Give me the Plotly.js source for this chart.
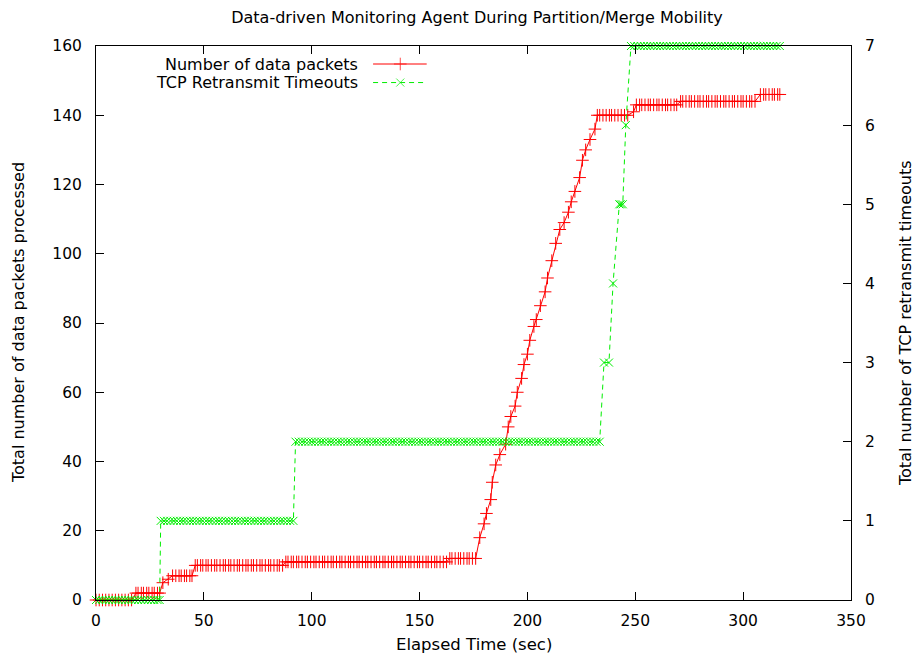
<!DOCTYPE html>
<html><head><meta charset="utf-8">
<script src="https://cdn.plot.ly/plotly-3.0.1.min.js"></script>
<style>html,body{margin:0;padding:0;background:#fff}#chart{width:918px;height:660px}</style>
</head><body><div id="chart"></div>
<script>
// Number of data packets: each count level with the times (sec) it was sampled at
const pktCounts = [0, 2, 5, 6, 7, 10, 11, 12,
  18, 22, 25, 29, 34, 39, 42, 45, 50, 53, 56, 60, 64, 68, 71, 75, 79, 81, 85, 89, 93, 98, 103, 107, 109, 112, 115, 118, 122, 127, 130, 133, 136,
  140, 141, 143, 144, 146];
const pktTimes = [
  [0,1.5,3,4.5,6,7.5,9,10.5,12,13.5,15,16.5],
  [18.5,19.5,21,22,23.5,24.5,26,27,28.5,29.5],
  [31],
  [33.5],
  [35.5,37,38.5,39.5,41,42,43.5,44.5],
  [46,47,48.5,49.5,51,52,53.5,55,56,57.5,59,60,61.5,62.5,64,65.5,66.5,68,69.5,70.5,72,73,74.5,76,77,78.5,80,81,82.5,84,85,86.5],
  [88,89,90.5,91.5,93,94,95.5,97,98,99.5,101,102,103.5,105,106,107.5,109,110,111.5,113,114,115.5,117,118,119.5,121,122,123.5,125,126,127.5,129,130,131.5,133,134,135.5,137,138,139.5,141,142,143.5,145,146,147.5,149,150,151.5,153,154,155.5,157,158,159.5,161,162.5],
  [164,165,166.5,168,169,170.5,172,173,174.5,176],
  [177.9],[179.9],[181],[183],[183.7],[185.3],[187.2],[189.9],[191.1],[192.3],[194.3],[195.3],[197.3],[198.4],[200],[201.1],[203],[204.1],[206],[208.2],[209.3],[211.3],[213.1],[215],[217],[219],[220.3],[222],[224.2],[225.5],[227],[229],[231.3],
  [232.4,233.5,235,236.5,238,239,240.5,242,243.5,245,246.5],
  [249.2],
  [250.5,252,253,254.5,256,257,258.5,260,261,262.5,264,265,266.5,268,269.2],
  [271,272,273.5,275,276,277.5,279,280,281.5,283,284,285.5,287,288,289.5,291,292,293.5,295,296,297.5,299,300,301.5,303,304,305.5],
  [308,309.5,310.5,312,313.5,314.5,316,317]
];
// TCP retransmit timeouts: each count level with its sample times (sec)
const tcpCounts = [0, 1, 2, 3, 4, 5, 6, 7];
const tcpTimes = [
  [0,1.5,3,4.5,6,7.5,9,10.5,12,13.5,15,16.5,18,19.5,21,22.5,24,25.5,27,28.5,29.5],
  [30,31.5,33,34.5,36,37.5,39,40.5,42,43.5,45,46.5,48,49.5,51,52.5,54,55.5,57,58.5,60,61.5,63,64.5,66,67.5,69,70.5,72,73.5,75,76.5,78,79.5,81,82.5,84,85.5,87,88.5,90,91.5],
  [92.5,94,95.5,97,98.5,100,101.5,103,104.5,106,107.5,109,110.5,112,113.5,115,116.5,118,119.5,121,122.5,124,125.5,127,128.5,130,131.5,133,134.5,136,137.5,139,140.5,142,143.5,145,146.5,148,149.5,151,152.5,154,155.5,157,158.5,160,161.5,163,164.5,166,167.5,169,170.5,172,173.5,175,176.5,178,179.5,181,182.5,184,185.5,187,188.5,190,191.5,193,194.5,196,197.5,199,200.5,202,203.5,205,206.5,208,209.5,211,212.5,214,215.5,217,218.5,220,221.5,223,224.5,226,227.5,229,230.5,232,233.5],
  [235.5,237.8],
  [239.7],
  [242.6,243.3,244.2],
  [245.6],
  [248,249.5,251,252.5,254,255.5,257,258.5,260,261.5,263,264.5,266,267.5,269,270.5,272,273.5,275,276.5,278,279.5,281,282.5,284,285.5,287,288.5,290,291.5,293,294.5,296,297.5,299,300.5,302,303.5,305,306.5,308,309.5,311,312.5,314,315.5,317]
];
const seriesNames = ["Number of data packets", "TCP Retransmit Timeouts"];
const chartTitle = "Data-driven Monitoring Agent During Partition/Merge Mobility";
const xTitle = "Elapsed Time (sec)";
const yTitle = "Total number of data packets processed";
const y2Title = "Total number of TCP retransmit timeouts";

function flatten(levels, times) {
  const x = [], y = [];
  levels.forEach((lv, i) => times[i].forEach(t => { x.push(t); y.push(lv); }));
  return {x, y};
}
const pkt = flatten(pktCounts, pktTimes);
const tcp = flatten(tcpCounts, tcpTimes);

const FONT = "DejaVu Sans, Liberation Sans, Arial, sans-serif";
const RED = "#ff0000", GREEN = "#00ee00";

const traces = [
  {x: pkt.x, y: pkt.y, mode: "lines+markers", name: seriesNames[0], cliponaxis: false,
   line: {color: RED, width: 1},
   marker: {symbol: "cross-thin", size: 9, color: RED, line: {color: RED, width: 1}}},
  {x: tcp.x, y: tcp.y, yaxis: "y2", mode: "lines+markers", name: seriesNames[1], cliponaxis: false,
   line: {color: GREEN, width: 1, dash: "5px,4px"},
   marker: {symbol: "x-thin", size: 8, color: GREEN, line: {color: GREEN, width: 1}}},
  // legend keys (hidden unit axes)
  {x: [0.367, 0.403, 0.438], y: [0.9675, 0.9675, 0.9675], xaxis: "x3", yaxis: "y3", mode: "lines+markers",
   line: {color: RED, width: 1}, marker: {symbol: "cross-thin", size: [0, 9, 0], color: RED, line: {color: RED, width: 1}},
   hoverinfo: "skip", cliponaxis: false},
  {x: [0.367, 0.403, 0.438], y: [0.934, 0.934, 0.934], xaxis: "x3", yaxis: "y3", mode: "lines+markers",
   line: {color: GREEN, width: 1, dash: "5px,4px"}, marker: {symbol: "x-thin", size: [0, 8, 0], color: GREEN, line: {color: GREEN, width: 1}},
   hoverinfo: "skip", cliponaxis: false}
];

const axisCommon = {showline: true, linecolor: "#000", linewidth: 1, ticks: "inside", ticklen: 8,
  tickcolor: "#000", tickwidth: 1, showgrid: false, zeroline: false,
  tickfont: {family: FONT, size: 15.5, color: "#000"}};

const layout = {
  width: 918, height: 660,
  margin: {l: 96, r: 67, t: 46, b: 60},
  paper_bgcolor: "#fff", plot_bgcolor: "#fff",
  showlegend: false,
  font: {family: FONT, size: 16, color: "#000"},
  title: {text: chartTitle, font: {family: FONT, size: 16, color: "#000"}, x: 0.5196, xref: "container", xanchor: "center", y: 0.973, yanchor: "middle"},
  xaxis: Object.assign({}, axisCommon, {range: [0, 350], dtick: 50, tick0: 0, mirror: "ticks", ticklabelstandoff: 6}),
  yaxis: Object.assign({}, axisCommon, {range: [0, 160], dtick: 20, tick0: 0, ticklabelstandoff: 10}),
  yaxis2: Object.assign({}, axisCommon, {range: [0, 7], dtick: 1, tick0: 0, overlaying: "y", side: "right", ticklabelstandoff: 10}),
  xaxis3: {range: [0, 1], overlaying: "x", visible: false, anchor: "y3"},
  yaxis3: {range: [0, 1], overlaying: "y", visible: false, anchor: "x3"},
  annotations: [
    {text: xTitle, xref: "paper", yref: "paper", x: 0.5, y: -0.0812, xanchor: "center", yanchor: "middle", showarrow: false, font: {family: FONT, size: 16.5}},
    {text: yTitle, xref: "paper", yref: "paper", x: -0.1033, y: 0.5, xanchor: "center", yanchor: "middle", textangle: -90, showarrow: false, font: {family: FONT, size: 16}},
    {text: y2Title, xref: "paper", yref: "paper", x: 1.0715, y: 0.5, xanchor: "center", yanchor: "middle", textangle: -90, showarrow: false, font: {family: FONT, size: 16}},
    {text: seriesNames[0], xref: "paper", yref: "paper", x: 0.3497, y: 0.9675, xanchor: "right", yanchor: "middle", showarrow: false, font: {family: FONT, size: 16}},
    {text: seriesNames[1], xref: "paper", yref: "paper", x: 0.3497, y: 0.934, xanchor: "right", yanchor: "middle", showarrow: false, font: {family: FONT, size: 16}}
  ]
};

Plotly.newPlot("chart", traces, layout, {displayModeBar: false, staticPlot: true});
</script>
</body></html>
